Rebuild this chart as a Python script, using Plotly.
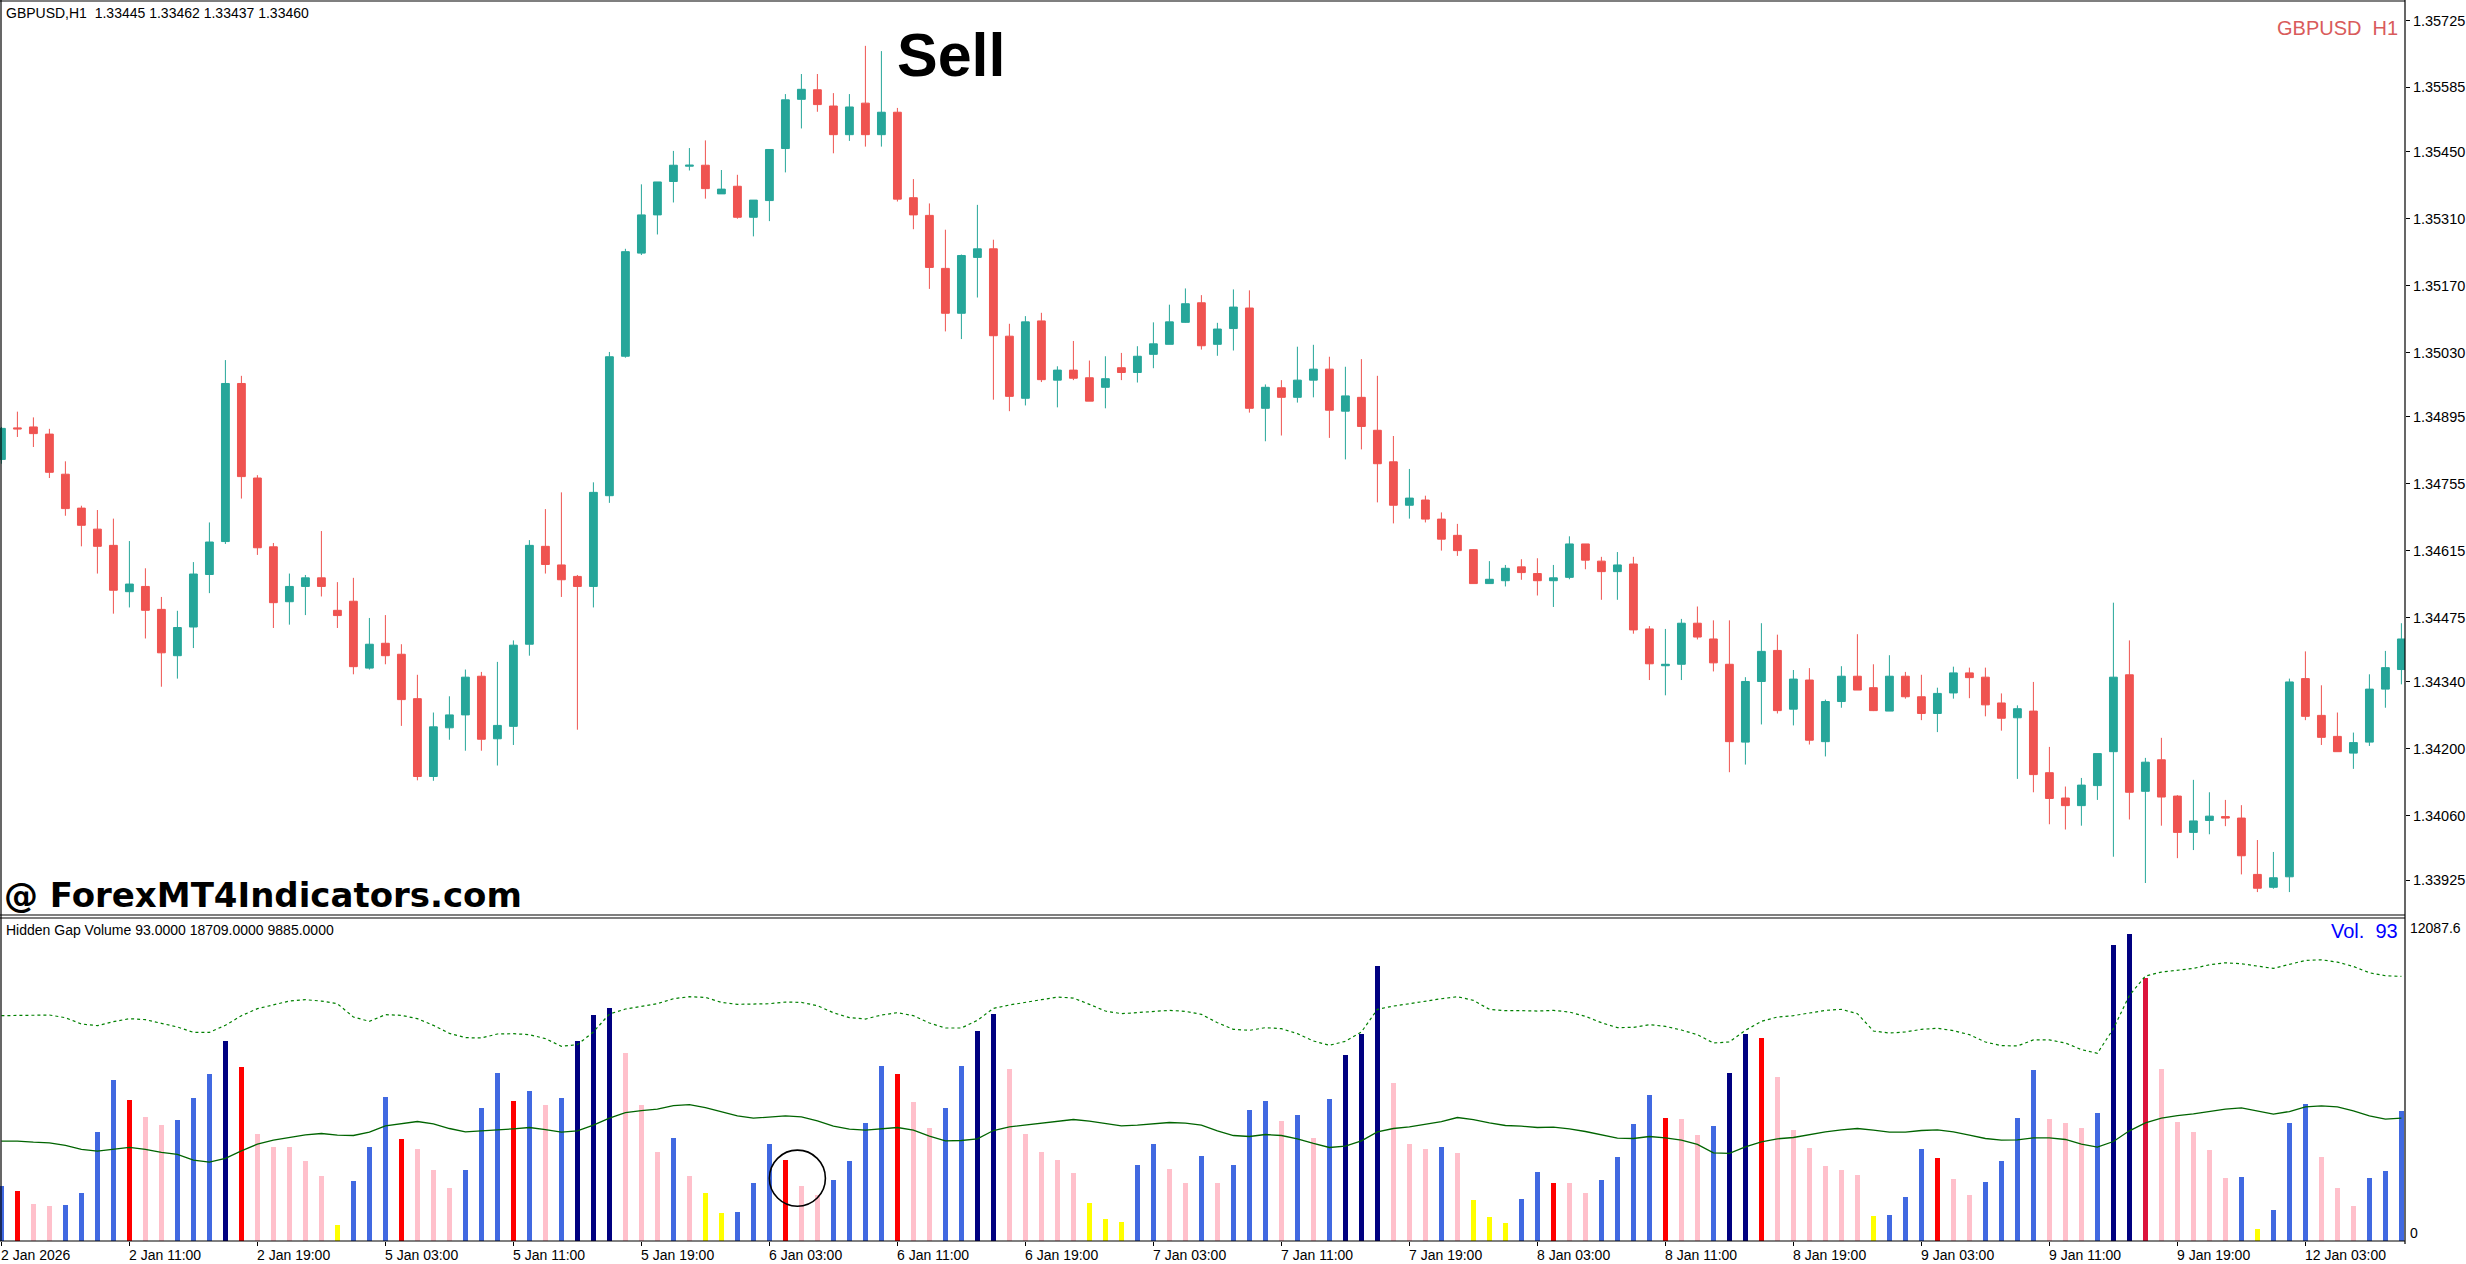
import plotly.graph_objects as go

# GBPUSD H1 bars (index 0 = 2 Jan 2026 03:00)
open_ = [
    1.34806, 1.34872, 1.34874, 1.34859, 1.34775, 1.34704, 1.34660, 1.34626, 1.34529, 1.34540,
    1.34492, 1.34395, 1.34455, 1.34565, 1.34634, 1.34965, 1.34767, 1.34623, 1.34508, 1.34540,
    1.34558, 1.34490, 1.34509, 1.34369, 1.34421, 1.34398, 1.34305, 1.34142, 1.34244, 1.34271,
    1.34352, 1.34221, 1.34247, 1.34419, 1.34624, 1.34585, 1.34561, 1.34540, 1.34730, 1.35022,
    1.35238, 1.35318, 1.35388, 1.35420, 1.35422, 1.35362, 1.35378, 1.35313, 1.35348, 1.35457,
    1.35560, 1.35580, 1.35546, 1.35486, 1.35552, 1.35486, 1.35533, 1.35354, 1.35317, 1.35206,
    1.35112, 1.35229, 1.35247, 1.35064, 1.34934, 1.35096, 1.34972, 1.34993, 1.34977, 1.34957,
    1.34998, 1.34988, 1.35026, 1.35047, 1.35093, 1.35134, 1.35047, 1.35080, 1.35123, 1.34913,
    1.34956, 1.34936, 1.34972, 1.34995, 1.34907, 1.34936, 1.34867, 1.34801, 1.34710, 1.34721,
    1.34681, 1.34647, 1.34617, 1.34546, 1.34552, 1.34581, 1.34567, 1.34552, 1.34559, 1.34629,
    1.34593, 1.34571, 1.34587, 1.34451, 1.34374, 1.34377, 1.34463, 1.34430, 1.34377, 1.34214,
    1.34341, 1.34406, 1.34283, 1.34344, 1.34215, 1.34299, 1.34352, 1.34328, 1.34279, 1.34352,
    1.34309, 1.34274, 1.34317, 1.34359, 1.34350, 1.34296, 1.34265, 1.34279, 1.34150, 1.34097,
    1.34081, 1.34123, 1.34194, 1.34355, 1.34111, 1.34177, 1.34101, 1.34025, 1.34050, 1.34058,
    1.34055, 1.33937, 1.33910, 1.33932, 1.34347, 1.34270, 1.34226, 1.34191, 1.34214, 1.34325,
    1.34366,
]
high = [
    1.34874, 1.34906, 1.34894, 1.34870, 1.34802, 1.34709, 1.34700, 1.34682, 1.34635, 1.34578,
    1.34518, 1.34489, 1.34591, 1.34674, 1.35014, 1.34981, 1.34773, 1.34631, 1.34567, 1.34564,
    1.34656, 1.34549, 1.34558, 1.34474, 1.34480, 1.34419, 1.34355, 1.34276, 1.34310, 1.34366,
    1.34361, 1.34382, 1.34427, 1.34637, 1.34702, 1.34737, 1.34564, 1.34758, 1.35031, 1.35247,
    1.35382, 1.35387, 1.35452, 1.35458, 1.35474, 1.35412, 1.35402, 1.35349, 1.35455, 1.35571,
    1.35613, 1.35613, 1.35573, 1.35571, 1.35672, 1.35661, 1.35542, 1.35393, 1.35342, 1.35287,
    1.35235, 1.35339, 1.35266, 1.35090, 1.35106, 1.35113, 1.35001, 1.35054, 1.35013, 1.35022,
    1.35029, 1.35043, 1.35093, 1.35130, 1.35164, 1.35150, 1.35092, 1.35162, 1.35160, 1.34963,
    1.34972, 1.35042, 1.35046, 1.35021, 1.35000, 1.35016, 1.34981, 1.34855, 1.34786, 1.34730,
    1.34695, 1.34671, 1.34618, 1.34593, 1.34585, 1.34597, 1.34599, 1.34585, 1.34645, 1.34629,
    1.34602, 1.34612, 1.34602, 1.34457, 1.34451, 1.34472, 1.34498, 1.34469, 1.34469, 1.34350,
    1.34463, 1.34439, 1.34365, 1.34369, 1.34303, 1.34373, 1.34440, 1.34377, 1.34396, 1.34361,
    1.34355, 1.34328, 1.34372, 1.34370, 1.34370, 1.34316, 1.34291, 1.34340, 1.34204, 1.34121,
    1.34139, 1.34190, 1.34506, 1.34427, 1.34181, 1.34223, 1.34103, 1.34135, 1.34109, 1.34093,
    1.34082, 1.34009, 1.33984, 1.34347, 1.34404, 1.34333, 1.34276, 1.34234, 1.34356, 1.34405,
    1.34463,
]
low = [
    1.34797, 1.34853, 1.34832, 1.34767, 1.34688, 1.34624, 1.34567, 1.34483, 1.34496, 1.34431,
    1.34330, 1.34347, 1.34411, 1.34526, 1.34629, 1.34724, 1.34606, 1.34453, 1.34460, 1.34480,
    1.34519, 1.34453, 1.34356, 1.34366, 1.34377, 1.34248, 1.34134, 1.34133, 1.34219, 1.34196,
    1.34196, 1.34165, 1.34208, 1.34395, 1.34567, 1.34518, 1.34240, 1.34496, 1.34715, 1.35019,
    1.35234, 1.35277, 1.35344, 1.35411, 1.35352, 1.35362, 1.35310, 1.35273, 1.35305, 1.35407,
    1.35499, 1.35534, 1.35447, 1.35473, 1.35461, 1.35461, 1.35346, 1.35288, 1.35163, 1.35074,
    1.35058, 1.35145, 1.34931, 1.34907, 1.34919, 1.34968, 1.34915, 1.34972, 1.34928, 1.34913,
    1.34972, 1.34967, 1.34997, 1.35047, 1.35092, 1.35036, 1.35023, 1.35034, 1.34904, 1.34844,
    1.34856, 1.34925, 1.34936, 1.34851, 1.34806, 1.34827, 1.34716, 1.34672, 1.34682, 1.34674,
    1.34615, 1.34604, 1.34546, 1.34546, 1.34540, 1.34554, 1.34521, 1.34497, 1.34555, 1.34576,
    1.34512, 1.34512, 1.34441, 1.34344, 1.34312, 1.34344, 1.34429, 1.34362, 1.34151, 1.34167,
    1.34251, 1.34274, 1.34249, 1.34209, 1.34184, 1.34286, 1.34323, 1.34279, 1.34279, 1.34305,
    1.34260, 1.34235, 1.34305, 1.34306, 1.34268, 1.34238, 1.34137, 1.34109, 1.34042, 1.34031,
    1.34039, 1.34093, 1.33974, 1.34052, 1.33919, 1.34039, 1.33971, 1.33988, 1.34021, 1.34038,
    1.33937, 1.33900, 1.33907, 1.33900, 1.34260, 1.34208, 1.34194, 1.34158, 1.34206, 1.34286,
    1.34335,
]
close = [
    1.34871, 1.34870, 1.34860, 1.34779, 1.34703, 1.34668, 1.34624, 1.34532, 1.34545, 1.34490,
    1.34401, 1.34454, 1.34566, 1.34633, 1.34965, 1.34770, 1.34621, 1.34506, 1.34540, 1.34558,
    1.34540, 1.34479, 1.34372, 1.34419, 1.34395, 1.34303, 1.34142, 1.34246, 1.34271, 1.34350,
    1.34220, 1.34249, 1.34417, 1.34626, 1.34586, 1.34554, 1.34540, 1.34737, 1.35021, 1.35241,
    1.35318, 1.35387, 1.35422, 1.35422, 1.35373, 1.35372, 1.35313, 1.35349, 1.35455, 1.35559,
    1.35581, 1.35549, 1.35486, 1.35544, 1.35486, 1.35533, 1.35351, 1.35318, 1.35208, 1.35112,
    1.35233, 1.35247, 1.35065, 1.34938, 1.35094, 1.34973, 1.34993, 1.34976, 1.34928, 1.34975,
    1.34988, 1.35022, 1.35048, 1.35094, 1.35132, 1.35044, 1.35079, 1.35125, 1.34913, 1.34957,
    1.34936, 1.34972, 1.34995, 1.34909, 1.34939, 1.34875, 1.34797, 1.34710, 1.34725, 1.34681,
    1.34639, 1.34615, 1.34546, 1.34555, 1.34578, 1.34569, 1.34552, 1.34558, 1.34629, 1.34595,
    1.34571, 1.34585, 1.34449, 1.34378, 1.34377, 1.34463, 1.34434, 1.34380, 1.34215, 1.34341,
    1.34404, 1.34280, 1.34346, 1.34218, 1.34299, 1.34352, 1.34323, 1.34280, 1.34352, 1.34309,
    1.34274, 1.34316, 1.34359, 1.34349, 1.34292, 1.34264, 1.34284, 1.34146, 1.34096, 1.34081,
    1.34124, 1.34190, 1.34350, 1.34109, 1.34172, 1.34099, 1.34025, 1.34049, 1.34059, 1.34055,
    1.33976, 1.33908, 1.33930, 1.34340, 1.34268, 1.34224, 1.34194, 1.34213, 1.34325, 1.34370,
    1.34430,
]

# Hidden Gap Volume histogram + its two lines
volume = [
    2055, 1868, 1383, 1308, 1345, 1794, 4073, 6016, 5268, 4633,
    4334, 4521, 5343, 6240, 7473, 6502, 3998, 3512, 3512, 2989,
    2429, 598, 2242, 3512, 5381, 3811, 3438, 2653, 1980, 2653,
    4970, 6277, 5231, 5605, 5082, 5343, 7473, 8444, 8706, 7025,
    5082, 3325, 3849, 2429, 1794, 1046, 1084, 2167, 3624, 3027,
    2055, 1719, 2279, 2989, 4409, 6539, 6240, 5194, 4222, 4970,
    6539, 7847, 8482, 6427, 3998, 3325, 3027, 2541, 1420, 822,
    710, 2840, 3624, 2690, 2167, 3176, 2167, 2840, 4895, 5231,
    4484, 4708, 3849, 5306, 6950, 7735, 10275, 5904, 3624, 3438,
    3512, 3288, 1532, 897, 673, 1569, 2578, 2167, 2167, 1794,
    2279, 3139, 4372, 5455, 4596, 4559, 3961, 4297, 6277, 7735,
    7585, 6128, 4148, 3475, 2802, 2653, 2466, 934, 971, 1644,
    3438, 3101, 2317, 1719, 2205, 2989, 4596, 6389, 4559, 4409,
    4222, 4783, 11060, 11471, 9827, 6427, 4446, 4073, 3400, 2354,
    2391, 448, 1158, 4409, 5119, 3139, 1980, 1308, 2354, 2616,
    4857,
]
vol_class = [
    "B", "R", "P", "P", "B", "B", "B", "B", "R", "P",
    "P", "B", "B", "B", "N", "R", "P", "P", "P", "P",
    "P", "Y", "B", "B", "B", "R", "P", "P", "P", "B",
    "B", "B", "R", "B", "P", "B", "N", "N", "N", "P",
    "P", "P", "B", "P", "Y", "Y", "B", "B", "B", "R",
    "P", "P", "B", "B", "B", "B", "R", "P", "P", "B",
    "B", "N", "N", "P", "P", "P", "P", "P", "Y", "Y",
    "Y", "B", "B", "P", "P", "B", "P", "B", "B", "B",
    "P", "B", "P", "B", "N", "N", "N", "P", "P", "P",
    "B", "P", "Y", "Y", "Y", "B", "B", "R", "P", "P",
    "B", "B", "B", "B", "R", "P", "P", "B", "N", "N",
    "R", "P", "P", "P", "P", "P", "P", "Y", "B", "B",
    "B", "R", "P", "P", "B", "B", "B", "B", "P", "P",
    "P", "B", "N", "N", "C", "P", "P", "P", "P", "P",
    "B", "Y", "B", "B", "B", "P", "P", "P", "B", "B",
    "B",
]
avg_line = [
    3737, 3737, 3699, 3674, 3575, 3425, 3363, 3438, 3500, 3425,
    3313, 3238, 3027, 2952, 3089, 3375, 3624, 3774, 3874, 3973,
    4023, 3961, 3948, 4073, 4309, 4397, 4471, 4384, 4210, 4085,
    4110, 4160, 4197, 4247, 4172, 4073, 4123, 4334, 4596, 4808,
    4882, 4932, 5069, 5107, 4994, 4833, 4683, 4596, 4633, 4683,
    4646, 4496, 4297, 4185, 4148, 4210, 4247, 4148, 3923, 3749,
    3761, 3824, 4135, 4272, 4334, 4409, 4484, 4546, 4484, 4397,
    4309, 4334, 4397, 4434, 4409, 4334, 4123, 3948, 3911, 3986,
    3948, 3824, 3649, 3500, 3550, 3749, 4085, 4210, 4272, 4359,
    4471, 4621, 4546, 4422, 4322, 4297, 4247, 4260, 4197, 4098,
    3961, 3849, 3836, 3911, 3861, 3774, 3612, 3301, 3276, 3525,
    3712, 3824, 3874, 3986, 4085, 4160, 4210, 4148, 4073, 4073,
    4135, 4160, 4085, 3961, 3836, 3774, 3786, 3861, 3861, 3799,
    3624, 3512, 3724, 4123, 4422, 4596, 4696, 4758, 4857, 4932,
    4982, 4857, 4745, 4845, 5019, 5057, 5019, 4870, 4683, 4559,
    4596,
]
band_line = [
    8432, 8444, 8457, 8457, 8357, 8121, 8058, 8208, 8320, 8283,
    8146, 8009, 7809, 7809, 8071, 8432, 8694, 8831, 8980, 9030,
    8980, 8880, 8382, 8220, 8469, 8444, 8320, 8071, 7772, 7610,
    7598, 7747, 7759, 7722, 7573, 7286, 7348, 7822, 8494, 8681,
    8793, 8880, 9067, 9142, 9117, 8930, 8856, 8856, 8880, 8943,
    8930, 8806, 8544, 8357, 8307, 8457, 8544, 8432, 8158, 7971,
    7971, 8258, 8706, 8831, 8943, 9030, 9130, 9092, 8856, 8606,
    8507, 8544, 8606, 8631, 8594, 8482, 8170, 7921, 7884, 7984,
    7946, 7759, 7485, 7324, 7473, 7822, 8669, 8793, 8880, 8980,
    9067, 9142, 9005, 8669, 8619, 8619, 8606, 8631, 8569, 8407,
    8170, 7984, 7996, 8096, 8033, 7896, 7722, 7411, 7448, 7884,
    8220, 8382, 8432, 8532, 8631, 8669, 8507, 7859, 7784, 7822,
    7921, 7959, 7872, 7722, 7448, 7311, 7299, 7523, 7523, 7411,
    7162, 7025, 7946, 9192, 9914, 10064, 10126, 10201, 10338, 10412,
    10375, 10275, 10201, 10350, 10500, 10524, 10437, 10275, 10039, 9927,
    9902,
]

# axis labels
price_ticks = [1.35725, 1.35585, 1.35450, 1.35310, 1.35170, 1.35030, 1.34895,
               1.34755, 1.34615, 1.34475, 1.34340, 1.34200, 1.34060, 1.33925]
time_tick_bars = [0, 8, 16, 24, 32, 40, 48, 56, 64, 72, 80, 88, 96, 104, 112, 120, 128, 136, 144]
time_tick_labels = ["2 Jan 2026", "2 Jan 11:00", "2 Jan 19:00", "5 Jan 03:00", "5 Jan 11:00",
                    "5 Jan 19:00", "6 Jan 03:00", "6 Jan 11:00", "6 Jan 19:00", "7 Jan 03:00",
                    "7 Jan 11:00", "7 Jan 19:00", "8 Jan 03:00", "8 Jan 11:00", "8 Jan 19:00",
                    "9 Jan 03:00", "9 Jan 11:00", "9 Jan 19:00", "12 Jan 03:00"]
vol_scale_max = 12087.6

W, H = 2466, 1264
PLOT_RIGHT = 2405  # px where the price scale starts


def px_x(p):
    return p / W


def px_y(p):
    return 1 - p / H


UP = "#26A69A"
DOWN = "#EF5350"
VOL_COLORS = {"B": "#4169E1", "N": "#000080", "R": "#FF0000",
              "P": "#FFC0CB", "Y": "#FFFF00", "C": "#DC143C"}
FONT = "Liberation Sans, Arial, sans-serif"

bars = list(range(len(close)))

fig = go.Figure()

fig.add_trace(go.Candlestick(
    x=bars, open=open_, high=high, low=low, close=close,
    increasing=dict(line=dict(color=UP, width=1), fillcolor=UP),
    decreasing=dict(line=dict(color=DOWN, width=1), fillcolor=DOWN),
    whiskerwidth=0, hoverinfo="skip", showlegend=False,
    xaxis="x", yaxis="y",
))

fig.add_trace(go.Bar(
    x=bars, y=volume, width=0.3,
    marker=dict(color=[VOL_COLORS[c] for c in vol_class], line=dict(width=0)),
    hoverinfo="skip", showlegend=False, xaxis="x", yaxis="y2",
))

fig.add_trace(go.Scatter(
    x=bars, y=avg_line, mode="lines",
    line=dict(color="#006400", width=1.3),
    hoverinfo="skip", showlegend=False, xaxis="x", yaxis="y2",
))

fig.add_trace(go.Scatter(
    x=bars, y=band_line, mode="lines",
    line=dict(color="#008000", width=1.2, dash="dot"),
    hoverinfo="skip", showlegend=False, xaxis="x", yaxis="y2",
))

fig.update_layout(
    width=W, height=H,
    margin=dict(l=0, r=0, t=0, b=0),
    paper_bgcolor="white", plot_bgcolor="white",
    font=dict(family=FONT, size=14, color="black"),
    bargap=0,
    xaxis=dict(
        domain=[0, px_x(PLOT_RIGHT)],
        range=[-0.0875, 150.225],
        anchor="y2",
        showgrid=False, zeroline=False, showline=False,
        tickmode="array", tickvals=time_tick_bars,
        ticks="outside", ticklen=4, tickcolor="black", tickwidth=1,
        showticklabels=False,
        rangeslider=dict(visible=False),
        fixedrange=True,
    ),
    yaxis=dict(
        domain=[px_y(915), 1],
        range=[1.33852, 1.35768],
        side="right", anchor="x",
        showgrid=False, zeroline=False, showline=False,
        tickmode="array", tickvals=price_ticks,
        ticktext=[f"{v:.5f}" for v in price_ticks],
        ticks="outside", ticklen=4, tickcolor="black",
        tickfont=dict(family=FONT, size=14.5, color="black"),
        fixedrange=True,
    ),
    yaxis2=dict(
        domain=[px_y(1241), px_y(918)],
        range=[0, vol_scale_max],
        side="right", anchor="x",
        showgrid=False, zeroline=False, showline=False,
        showticklabels=False, ticks="",
        fixedrange=True,
    ),
)

# MT4 style frame lines
frame = [
    (1, 0, 1, 1241),                       # left border
    (0, 1, PLOT_RIGHT, 1),                 # top border
    (PLOT_RIGHT, 0, PLOT_RIGHT, 1244),     # price scale line
    (0, 915, PLOT_RIGHT, 915),             # pane separator
    (0, 918, PLOT_RIGHT, 918),
    (0, 1241, PLOT_RIGHT, 1241),           # time axis
]
for x0, y0, x1, y1 in frame:
    fig.add_shape(type="line", xref="paper", yref="paper",
                  x0=px_x(x0), y0=px_y(y0), x1=px_x(x1), y1=px_y(y1),
                  line=dict(color="black", width=1.2))

# circle around the highlighted volume bar
fig.add_shape(type="circle", xref="x", yref="y2",
              x0=48.0, x1=51.5, y0=1300, y1=3400,
              line=dict(color="black", width=1.6))

texts = [
    # text, x px, y px, xanchor, size, color, family
    ("GBPUSD,H1\u00a0\u00a01.33445 1.33462 1.33437 1.33460", 4, 13, "left", 14, "black", FONT),
    ("GBPUSD\u00a0\u00a0H1", 2400, 28, "right", 20, "#D95B5B", FONT),
    ("<b>Sell</b>", 895, 55, "left", 61, "black", FONT),
    ("<b>@ ForexMT4Indicators.com</b>", 2, 895, "left", 34, "black", "DejaVu Sans, sans-serif"),
    ("Hidden Gap Volume 93.0000 18709.0000 9885.0000", 4, 930, "left", 14, "black", FONT),
    ("Vol.\u00a0\u00a093", 2400, 931, "right", 20, "#0000FF", FONT),
    ("12087.6", 2408, 928, "left", 14, "black", FONT),
    ("0", 2408, 1233, "left", 14, "black", FONT),
]
for t, x, y, anchor, size, color, fam in texts:
    fig.add_annotation(text=t, xref="paper", yref="paper", x=px_x(x), y=px_y(y),
                       xanchor=anchor, yanchor="middle", showarrow=False,
                       font=dict(family=fam, size=size, color=color))

for b, lab in zip(time_tick_bars, time_tick_labels):
    fig.add_annotation(text=lab, xref="x", yref="paper", x=b, y=px_y(1255),
                       xanchor="left", yanchor="middle", showarrow=False, xshift=-2,
                       font=dict(family=FONT, size=14, color="black"))

# drop the browser's default page margin so the chart sits at 0,0
fig.write_html("out.html",
               config={"displayModeBar": False},
               post_script="document.body.style.margin='0';"
                           "document.documentElement.style.overflow='hidden';")
